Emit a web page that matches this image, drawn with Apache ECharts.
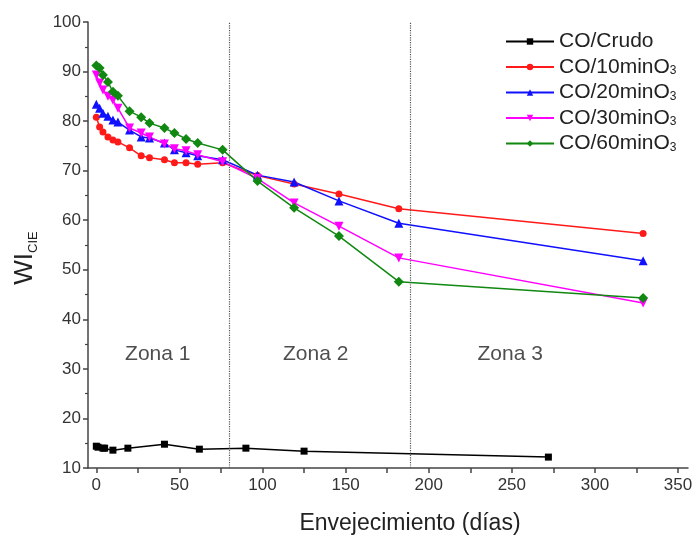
<!DOCTYPE html>
<html>
<head>
<meta charset="utf-8">
<script src="https://cdn.jsdelivr.net/npm/echarts@6/dist/echarts.min.js"></script>
<style>
  html, body { margin: 0; padding: 0; background: #fff; }
  #chart { width: 696px; height: 540px; }
</style>
</head>
<body>
<div id="chart"></div>
<script>
// days of aging for the crude oil series
const crudoDays = [0, 1, 4, 5, 10, 19, 41, 62, 90, 125, 272];
const crudoWI   = [14.4, 14.2, 14.0, 14.0, 13.6, 14.0, 14.8, 13.8, 14.0, 13.4, 12.2];

// days for the ozonated series (shared)
const ozDays = [0, 2, 4, 7, 10, 13, 20, 27, 32, 41, 47, 54, 61, 76, 97, 119, 146, 182, 329];
const wi10 = [80.8, 78.8, 77.8, 76.8, 76.2, 75.8, 74.6, 73.0, 72.6, 72.2, 71.6, 71.6, 71.3, 71.6, 69.0, 67.3, 65.3, 62.3, 57.3];
const wi20 = [83.4, 82.6, 81.6, 81.0, 80.2, 79.8, 78.2, 76.8, 76.6, 75.6, 74.2, 73.6, 73.0, 72.2, 69.1, 67.7, 63.9, 59.4, 51.8];
const wi30 = [89.3, 87.7, 86.3, 85.0, 84.2, 82.6, 78.6, 77.6, 76.8, 75.4, 74.4, 74.0, 73.2, 71.8, 68.4, 63.5, 58.8, 52.4, 43.3];
const wi60 = [91.2, 90.7, 89.3, 87.9, 85.9, 85.1, 82.0, 80.8, 79.6, 78.6, 77.6, 76.4, 75.6, 74.2, 67.9, 62.5, 56.8, 47.6, 44.3];

const seriesNames = ['CO/Crudo', 'CO/10minO3', 'CO/20minO3', 'CO/30minO3', 'CO/60minO3'];
const zoneBounds = [80, 189];
const zoneLabels = ['Zona 1', 'Zona 2', 'Zona 3'];
const zoneX = [37, 132, 249];
const zoneY = 33;
const xLabels = [0, 50, 100, 150, 200, 250, 300, 350];
const xTicks = [0, 25, 50, 75, 100, 125, 150, 175, 200, 225, 250, 275, 300, 325, 350];

const FONT = '"Liberation Sans", Arial, sans-serif';

function pairs(xs, ys) {
  return xs.map((x, i) => [x, ys[i]]);
}

function lineSeries(name, data, color, symbol, size, extra) {
  return Object.assign({
    name: name,
    type: 'line',
    data: data,
    symbol: symbol,
    symbolSize: size,
    itemStyle: { color: color },
    lineStyle: { color: color, width: 1.5 },
    emphasis: { disabled: true }
  }, extra || {});
}

const chart = echarts.init(document.getElementById('chart'));

chart.setOption({
  animation: false,
  textStyle: { fontFamily: FONT },
  grid: { left: 88, right: 8, top: 22, bottom: 71, containLabel: false },
  legend: {
    data: seriesNames,
    orient: 'vertical',
    left: 500,
    top: 26,
    itemWidth: 48,
    itemHeight: 8,
    itemGap: 1,
    formatter: function (name) {
      if (/O3$/.test(name)) {
        return '{n|' + name.slice(0, -1) + '}{s|3}';
      }
      return '{n|' + name + '}';
    },
    textStyle: {
      color: '#222',
      rich: {
        n: { fontSize: 21, fontFamily: FONT, color: '#222', lineHeight: 20 },
        s: { fontSize: 12, fontFamily: FONT, color: '#222', lineHeight: 20, verticalAlign: 'bottom', padding: [12, 0, 0, 0] }
      }
    }
  },
  xAxis: {
    type: 'value',
    min: -5,
    max: 356,
    name: 'Envejecimiento (días)',
    nameLocation: 'middle',
    nameGap: 44,
    nameTextStyle: { fontSize: 23, color: '#222', fontFamily: FONT, padding: [0, 0, 0, 44] },
    axisLine: { show: true, onZero: false, lineStyle: { color: '#444', width: 1.5 } },
    axisTick: { show: true, inside: false, length: 5, customValues: xTicks, lineStyle: { color: '#444', width: 1.5 } },
    axisLabel: { customValues: xLabels, fontSize: 17, color: '#333', margin: 9 },
    splitLine: { show: false }
  },
  yAxis: {
    type: 'value',
    min: 10,
    max: 100,
    interval: 10,
    name: '{m|WI}{s|CIE}',
    nameLocation: 'middle',
    nameGap: 48,
    nameRotate: 90,
    nameTextStyle: {
      padding: [0, 26, 0, 0],
      rich: {
        m: { fontSize: 26, color: '#222', fontFamily: FONT, lineHeight: 30 },
        s: { fontSize: 13, color: '#222', fontFamily: FONT, lineHeight: 30, verticalAlign: 'bottom', padding: [14, 0, 0, 0] }
      }
    },
    axisLine: { show: true, onZero: false, lineStyle: { color: '#444', width: 1.5 } },
    axisTick: { show: true, inside: false, length: 5, lineStyle: { color: '#444', width: 1.5 } },
    minorTick: { show: true, splitNumber: 2, length: 3, lineStyle: { color: '#444', width: 1.2 } },
    axisLabel: { fontSize: 17, color: '#333', margin: 7 },
    splitLine: { show: false }
  },
  series: [
    lineSeries(seriesNames[0], pairs(crudoDays, crudoWI), '#000000', 'rect', 7, {
      markLine: {
        silent: true,
        symbol: 'none',
        label: { show: false },
        lineStyle: { color: '#555', type: 'dotted', width: 1.2 },
        data: zoneBounds.map(v => ({ xAxis: v }))
      }
    }),
    lineSeries(seriesNames[1], pairs(ozDays, wi10), '#ff1a1a', 'circle', 7),
    lineSeries(seriesNames[2], pairs(ozDays, wi20), '#1010ff', 'triangle', 9),
    lineSeries(seriesNames[3], pairs(ozDays, wi30), '#ff00ff', 'triangle', 9, { symbolRotate: 180 }),
    lineSeries(seriesNames[4], pairs(ozDays, wi60), '#118811', 'diamond', 10),
    {
      name: 'zonas',
      type: 'scatter',
      symbolSize: 0,
      silent: true,
      data: zoneLabels.map((t, i) => ({ value: [zoneX[i], zoneY], name: t })),
      label: {
        show: true,
        position: 'inside',
        formatter: p => p.name,
        fontSize: 21,
        color: '#222',
        fontFamily: FONT
      }
    }
  ]
});
</script>
</body>
</html>
